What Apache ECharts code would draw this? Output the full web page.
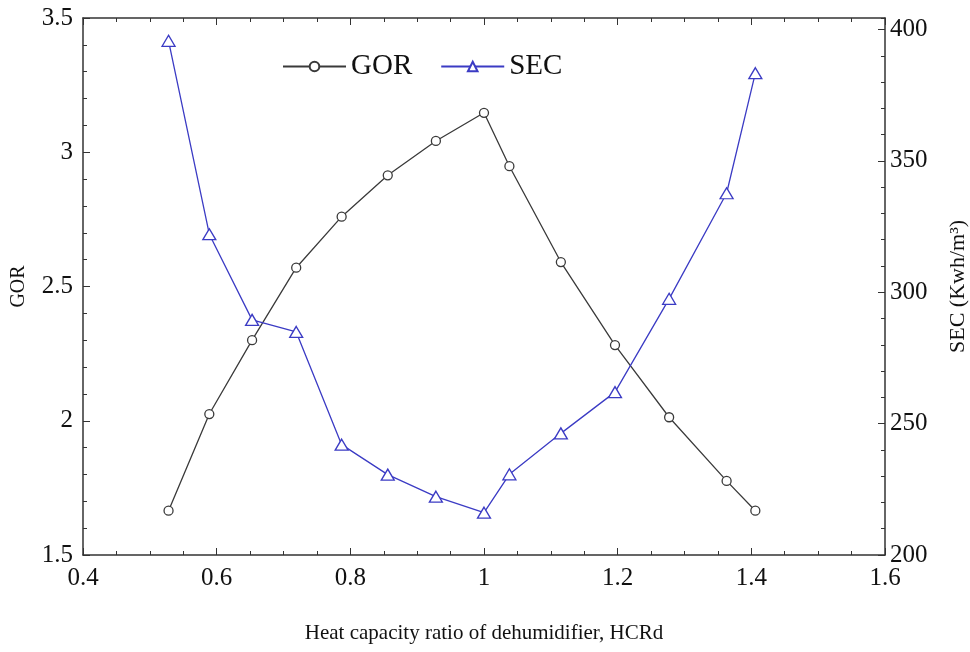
<!DOCTYPE html>
<html>
<head>
<meta charset="utf-8">
<script src="https://cdn.jsdelivr.net/npm/echarts@6/dist/echarts.min.js"></script>
<style>
  html, body { margin: 0; padding: 0; background: #fff; }
  #chart { width: 970px; height: 652px; }
</style>
</head>
<body>
<div id="chart"></div>
<script>
// heat capacity ratio (x)
var hcrd = [0.528, 0.589, 0.653, 0.719, 0.787, 0.856, 0.928, 1.0, 1.038, 1.115, 1.196, 1.277, 1.363, 1.406];
// GOR values (left axis)
var gor = [1.665, 2.025, 2.30, 2.57, 2.76, 2.914, 3.042, 3.147, 2.948, 2.591, 2.282, 2.013, 1.776, 1.665];
// SEC values, Kwh/m3 (right axis)
var sec = [395.7, 322.1, 289.5, 284.9, 242.0, 230.6, 222.2, 216.1, 230.7, 246.3, 262.0, 297.5, 337.7, 383.4];

var font = '"Liberation Serif", "Times New Roman", serif';
var axisColor = '#333';

function pairs(xs, ys) {
    var out = [];
    for (var i = 0; i < xs.length; i++) out.push([xs[i], ys[i]]);
    return out;
}

var myChart = echarts.init(document.getElementById('chart'));
var option = {
    animation: false,
    backgroundColor: '#fff',
    textStyle: { fontFamily: font },
    grid: { left: 83, right: 85, top: 18, bottom: 97, outerBoundsMode: 'none', containLabel: false },
    legend: {
        left: 277, top: 47,
        itemWidth: 63, itemHeight: 12, itemGap: 28,
        textStyle: { fontFamily: font, fontSize: 29, color: '#111' },
        data: ['GOR', 'SEC']
    },
    xAxis: [{
        type: 'value', min: 0.4, max: 1.6, interval: 0.2,
        name: 'Heat capacity ratio of dehumidifier, HCRd',
        nameLocation: 'middle', nameGap: 68,
        nameTextStyle: { fontFamily: font, fontSize: 21, color: '#111' },
        axisLine: { lineStyle: { color: axisColor, width: 1.5 } },
        axisTick: { inside: true, length: 7, lineStyle: { color: axisColor } },
        minorTick: { show: true, splitNumber: 4, length: 4, lineStyle: { color: axisColor } },
        axisLabel: { fontFamily: font, fontSize: 25, color: '#111', margin: 11,
            formatter: function (v) { return String(+v.toFixed(1)); } },
        splitLine: { show: false }
    }, {
        type: 'value', position: 'top', min: 0.4, max: 1.6, interval: 0.2,
        axisLine: { show: true, lineStyle: { color: axisColor, width: 1.5 } },
        axisTick: { inside: true, length: 7, lineStyle: { color: axisColor } },
        minorTick: { show: true, splitNumber: 4, length: 4, lineStyle: { color: axisColor } },
        axisLabel: { show: false },
        splitLine: { show: false }
    }],
    yAxis: [{
        type: 'value', position: 'left', min: 1.5, max: 3.5, interval: 0.5,
        name: 'GOR', nameLocation: 'middle', nameGap: 54, nameRotate: 90,
        nameTextStyle: { fontFamily: font, fontSize: 20, color: '#111' },
        axisLine: { show: true, lineStyle: { color: axisColor, width: 1.5 } },
        axisTick: { inside: true, length: 7, lineStyle: { color: axisColor } },
        minorTick: { show: true, splitNumber: 5, length: 4, lineStyle: { color: axisColor } },
        axisLabel: { fontFamily: font, fontSize: 25, color: '#111', margin: 10,
            formatter: function (v) { return String(+v.toFixed(1)); } },
        splitLine: { show: false }
    }, {
        // SEC axis: minor ticks every 10
        type: 'value', position: 'right', min: 200, max: 404.4, interval: 10,
        axisLine: { show: true, lineStyle: { color: axisColor, width: 1.5 } },
        axisTick: { inside: true, length: 4, lineStyle: { color: axisColor } },
        axisLabel: { show: false },
        splitLine: { show: false }
    }, {
        // SEC axis: major ticks and labels every 50
        type: 'value', position: 'right', min: 200, max: 404.4, interval: 50,
        name: 'SEC (Kwh/m³)', nameLocation: 'middle', nameGap: 62, nameRotate: 90,
        nameTextStyle: { fontFamily: font, fontSize: 22, color: '#111' },
        axisLine: { show: false },
        axisTick: { inside: true, length: 7, lineStyle: { color: axisColor } },
        axisLabel: { fontFamily: font, fontSize: 25, color: '#111', margin: 5, showMaxLabel: false },
        splitLine: { show: false }
    }],
    series: [{
        name: 'GOR', type: 'line', xAxisIndex: 0, yAxisIndex: 0,
        data: pairs(hcrd, gor),
        symbol: 'circle', symbolSize: 9,
        lineStyle: { color: '#3a3a3a', width: 1.3 },
        itemStyle: { color: '#fff', borderColor: '#3a3a3a', borderWidth: 1.3 }
    }, {
        name: 'SEC', type: 'line', xAxisIndex: 0, yAxisIndex: 1,
        data: pairs(hcrd, sec),
        symbol: 'triangle', symbolSize: [13, 11],
        lineStyle: { color: '#3b3bc4', width: 1.3 },
        itemStyle: { color: '#fff', borderColor: '#3b3bc4', borderWidth: 1.3 }
    }]
};
myChart.setOption(option);
</script>
</body>
</html>
